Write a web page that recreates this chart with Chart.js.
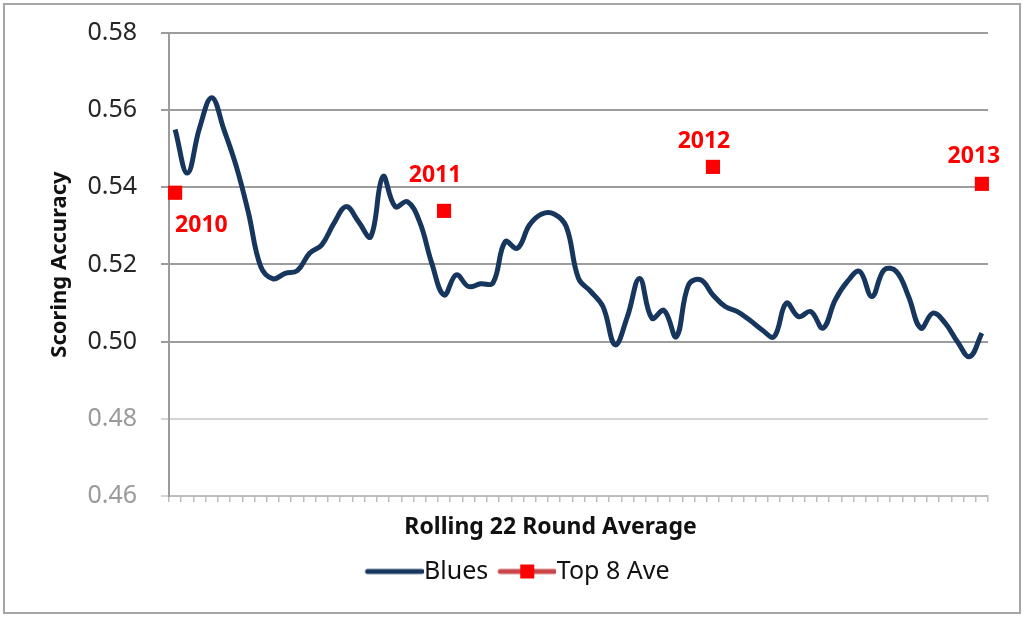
<!DOCTYPE html>
<html>
<head>
<meta charset="utf-8">
<script src="https://cdn.jsdelivr.net/npm/chart.js@4.4.1/dist/chart.umd.min.js"></script>
<style>
  html, body { margin: 0; padding: 0; background: #fff; }
  #wrap { position: relative; width: 1024px; height: 617px; }
</style>
</head>
<body>
<div id="wrap"><canvas id="chart"></canvas></div>
<script>
// rounds along the x axis (67 rolling windows)
const rounds = Array.from({ length: 67 }, (_, i) => String(i + 1));

// Blues rolling 22 round scoring accuracy
const blues = [
  0.555, 0.5437, 0.5554, 0.5632, 0.5549, 0.5455, 0.5334, 0.5195, 0.5163, 0.5177,
  0.5184, 0.5229, 0.5251, 0.5307, 0.535, 0.5311, 0.5272, 0.5428, 0.535, 0.5363,
  0.5311, 0.5203, 0.5121, 0.5173, 0.5143, 0.515, 0.5152, 0.5259, 0.5242, 0.5303,
  0.5331, 0.5331, 0.5298, 0.5164, 0.513, 0.5091, 0.4992, 0.5065, 0.5164, 0.5061,
  0.5081, 0.5013, 0.5147, 0.516, 0.5121, 0.5091, 0.5078, 0.5056, 0.5031, 0.5013,
  0.51, 0.5065, 0.5078, 0.5035, 0.5108, 0.5156, 0.5182, 0.5117, 0.5186, 0.5182,
  0.5117, 0.5035, 0.5074, 0.5048, 0.50, 0.4961, 0.5022
];

// top 8 season averages, placed at the first round of each window
const top8Rounds = ['1', '23', '45', '67'];
const top8Values = [0.5386, 0.5339, 0.5453, 0.5409];
const top8Years = ['2010', '2011', '2012', '2013'];

const yTicks = [0.46, 0.48, 0.50, 0.52, 0.54, 0.56, 0.58];

const FONT = '"Noto Sans", "DejaVu Sans", sans-serif';
const NAVY = '#17365d';
const RED = '#ff0000';

// legend swatches: line with optional square marker, like the spreadsheet legend
function swatch(lineColor, withMarker) {
  const c = document.createElement('canvas');
  c.width = 70; c.height = 16;
  const g = c.getContext('2d');
  g.strokeStyle = lineColor;
  g.lineWidth = 5;
  g.lineCap = 'round';
  g.beginPath(); g.moveTo(14, 8); g.lineTo(68, 8); g.stroke();
  if (withMarker) {
    g.fillStyle = RED;
    g.fillRect(34, 1, 14, 14);
  }
  return c;
}
const legendStyles = [swatch(NAVY, false), swatch('#c9474a', true)];

// where each year label sits relative to its marker
const labelShift = [[0, 33, 'left'], [-9, -35, 'center'], [-9, -25, 'center'], [-8, -27, 'center']];

const yearLabels = {
  id: 'yearLabels',
  afterDatasetsDraw(chart) {
    const ctx = chart.ctx;
    const meta = chart.getDatasetMeta(1);
    ctx.save();
    ctx.font = 'bold 23px ' + FONT;
    ctx.fillStyle = RED;
    ctx.textBaseline = 'middle';
    meta.data.forEach((pt, i) => {
      const s = labelShift[i];
      ctx.textAlign = s[2];
      ctx.fillText(top8Years[i], pt.x + s[0], pt.y + s[1]);
    });
    ctx.restore();
  }
};

const frame = {
  id: 'frame',
  beforeDraw(chart) {
    const ctx = chart.ctx;
    ctx.save();
    ctx.strokeStyle = '#a6a6a6';
    ctx.lineWidth = 2;
    ctx.strokeRect(4, 4, 1016, 609);
    ctx.restore();
  },
  afterDraw(chart) {
    const ctx = chart.ctx;
    const a = chart.chartArea;
    ctx.save();
    ctx.font = 'bold 23px ' + FONT;
    ctx.fillStyle = '#111';
    ctx.textAlign = 'center';
    ctx.textBaseline = 'middle';
    ctx.fillText('Rolling 22 Round Average', (a.left + a.right) / 2 - 28, a.bottom + 31);
    ctx.restore();
  }
};

new Chart(document.getElementById('chart'), {
  type: 'line',
  data: {
    labels: rounds,
    datasets: [
      {
        label: 'Blues',
        data: blues,
        borderColor: NAVY,
        backgroundColor: NAVY,
        borderWidth: 5,
        tension: 0.4,
        pointRadius: 0
      },
      {
        label: 'Top 8 Ave',
        data: top8Rounds.map((r, i) => ({ x: r, y: top8Values[i] })),
        showLine: false,
        pointStyle: 'rect',
        pointRadius: 10,
        backgroundColor: RED,
        borderColor: RED,
        borderWidth: 0
      }
    ]
  },
  options: {
    responsive: true,
    maintainAspectRatio: false,
    animation: false,
    devicePixelRatio: 1,
    layout: { padding: { left: 47, right: 36, top: 33, bottom: 23 } },
    plugins: {
      tooltip: { enabled: false },
      legend: {
        position: 'bottom',
        labels: {
          usePointStyle: true,
          pointStyleWidth: 46,
          padding: 10,
          color: '#111',
          font: { family: FONT, size: 25 },
          generateLabels(chart) {
            const items = Chart.defaults.plugins.legend.labels.generateLabels(chart);
            items.forEach((it, i) => { it.pointStyle = legendStyles[i]; });
            return items;
          }
        }
      }
    },
    scales: {
      x: {
        type: 'category',
        offset: true,
        grid: { offset: true, drawOnChartArea: false, drawTicks: true, tickLength: 6, color: '#bdbdbd', lineWidth: 1.5 },
        border: { color: '#bdbdbd', width: 2 },
        ticks: { display: false },
        afterFit(s) { s.height = 53; s.paddingLeft = 0; s.paddingRight = 0; }
      },
      y: {
        min: yTicks[0],
        max: yTicks[yTicks.length - 1],
        afterBuildTicks(s) { s.ticks = yTicks.map(v => ({ value: v })); },
        ticks: {
          padding: 24,
          font: { family: FONT, size: 25 },
          color: c => (c.tick && c.tick.value < 0.49 ? '#9a9a9a' : '#262626'),
          callback: v => Number(v).toFixed(2)
        },
        grid: {
          color: c => (c.tick && c.tick.value < 0.49 ? '#d4d4d4' : '#9c9c9c'),
          lineWidth: 2,
          tickLength: 8
        },
        border: { color: '#9c9c9c', width: 2 },
        title: {
          display: true,
          text: 'Scoring Accuracy',
          color: '#111',
          font: { family: FONT, size: 22, weight: 'bold' },
          padding: { top: 0, bottom: 0 }
        },
        afterFit(s) { s.width = 122; s.paddingTop = 0; s.paddingBottom = 0; }
      }
    }
  },
  plugins: [yearLabels, frame]
});
</script>
</body>
</html>
